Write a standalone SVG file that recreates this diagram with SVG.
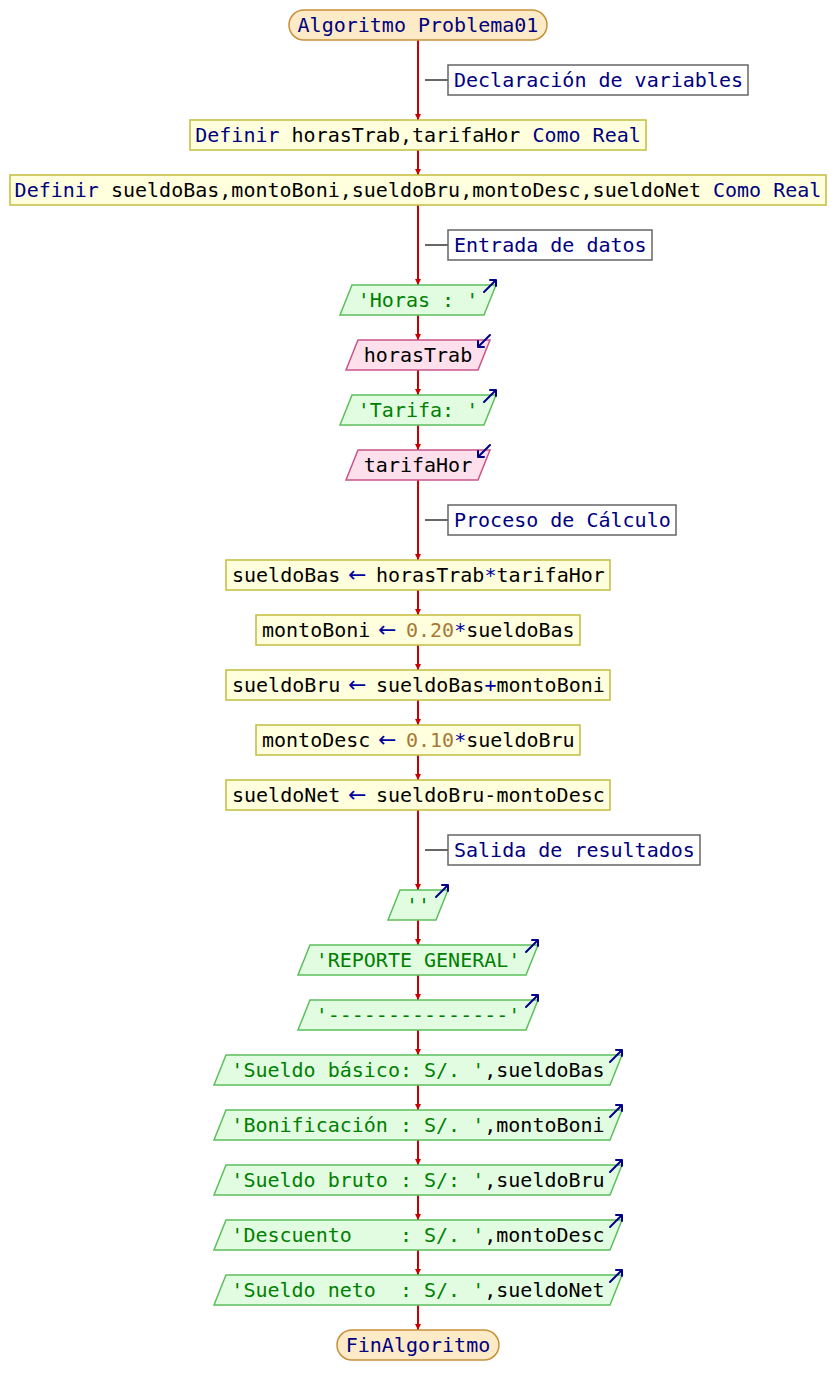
<svg xmlns="http://www.w3.org/2000/svg" width="836" height="1395" viewBox="0 0 836 1395">
<style>
text{font-family:"DejaVu Sans Mono","Liberation Mono",monospace;font-size:20px;white-space:pre;fill:#000}
.term{fill:#fdebc8;stroke:#c8903a;stroke-width:1.5}
.proc{fill:#ffffdd;stroke:#c4bc3c;stroke-width:1.5}
.out{fill:#e2fce2;stroke:#5cbf5c;stroke-width:1.5}
.inp{fill:#fde0ec;stroke:#c8548a;stroke-width:1.5}
.cbox{fill:#fff;stroke:#666;stroke-width:1.5}
.cline{stroke:#666;stroke-width:2}
.flow{stroke:#cc0000;stroke-width:2;fill:none;marker-end:url(#ah)}
.ico{stroke:#000088;stroke-width:2;fill:none;stroke-linecap:round;stroke-linejoin:round}
.k{fill:#00007f}
.s{fill:#008000}
.n{fill:#a87838}
.o{fill:#0000a0}
.ar{fill:#0000a0;font-family:"DejaVu Sans",sans-serif;font-size:22px}
</style>
<defs>
<marker id="ah" viewBox="0 0 10 10" refX="10" refY="5" markerWidth="6" markerHeight="10" markerUnits="userSpaceOnUse" orient="auto">
<path d="M0,0 L10,5 L0,10 z" fill="#cc0000"/>
</marker>
</defs>

<g id="connectors">
<line class="flow" x1="418" y1="40" x2="418" y2="120"/>
<line class="flow" x1="418" y1="150" x2="418" y2="175"/>
<line class="flow" x1="418" y1="205" x2="418" y2="285"/>
<line class="flow" x1="418" y1="315" x2="418" y2="340"/>
<line class="flow" x1="418" y1="370" x2="418" y2="395"/>
<line class="flow" x1="418" y1="425" x2="418" y2="450"/>
<line class="flow" x1="418" y1="480" x2="418" y2="560"/>
<line class="flow" x1="418" y1="590" x2="418" y2="615"/>
<line class="flow" x1="418" y1="645" x2="418" y2="670"/>
<line class="flow" x1="418" y1="700" x2="418" y2="725"/>
<line class="flow" x1="418" y1="755" x2="418" y2="780"/>
<line class="flow" x1="418" y1="810" x2="418" y2="890"/>
<line class="flow" x1="418" y1="920" x2="418" y2="945"/>
<line class="flow" x1="418" y1="975" x2="418" y2="1000"/>
<line class="flow" x1="418" y1="1030" x2="418" y2="1055"/>
<line class="flow" x1="418" y1="1085" x2="418" y2="1110"/>
<line class="flow" x1="418" y1="1140" x2="418" y2="1165"/>
<line class="flow" x1="418" y1="1195" x2="418" y2="1220"/>
<line class="flow" x1="418" y1="1250" x2="418" y2="1275"/>
<line class="flow" x1="418" y1="1305" x2="418" y2="1330"/>
<line class="cline" x1="425" y1="80" x2="448" y2="80"/>
<line class="cline" x1="425" y1="245" x2="448" y2="245"/>
<line class="cline" x1="425" y1="520" x2="448" y2="520"/>
<line class="cline" x1="425" y1="850" x2="448" y2="850"/>
</g>

<g id="start">
<rect class="term" x="289" y="10" width="258" height="30" rx="15" ry="15"/>
<text x="418" y="32" text-anchor="middle" class="k">Algoritmo Problema01</text>
</g>

<g id="comment1">
<rect class="cbox" x="448" y="65" width="300" height="30"/>
<text x="454" y="87" class="k">Declaración de variables</text>
</g>

<g id="def1">
<rect class="proc" x="190" y="120" width="456" height="30"/>
<text x="418" y="142" text-anchor="middle"><tspan class="k">Definir</tspan> horasTrab,tarifaHor <tspan class="k">Como Real</tspan></text>
</g>

<g id="def2">
<rect class="proc" x="10" y="175" width="816" height="30"/>
<text x="418" y="197" text-anchor="middle"><tspan class="k">Definir</tspan> sueldoBas,montoBoni,sueldoBru,montoDesc,sueldoNet <tspan class="k">Como Real</tspan></text>
</g>

<g id="comment2">
<rect class="cbox" x="448" y="230" width="204" height="30"/>
<text x="454" y="252" class="k">Entrada de datos</text>
</g>

<g id="out1">
<polygon class="out" points="352,285 496,285 484,315 340,315"/>
<text x="418" y="307" text-anchor="middle" class="s">'Horas : '</text>
<path class="ico" d="M484,292 L496,280 M490,280 L496,280 L496,286"/>
</g>

<g id="in1">
<polygon class="inp" points="358,340 490,340 478,370 346,370"/>
<text x="418" y="362" text-anchor="middle">horasTrab</text>
<path class="ico" d="M490,335 L478,347 M484,347 L478,347 L478,341"/>
</g>

<g id="out2">
<polygon class="out" points="352,395 496,395 484,425 340,425"/>
<text x="418" y="417" text-anchor="middle" class="s">'Tarifa: '</text>
<path class="ico" d="M484,402 L496,390 M490,390 L496,390 L496,396"/>
</g>

<g id="in2">
<polygon class="inp" points="358,450 490,450 478,480 346,480"/>
<text x="418" y="472" text-anchor="middle">tarifaHor</text>
<path class="ico" d="M490,445 L478,457 M484,457 L478,457 L478,451"/>
</g>

<g id="comment3">
<rect class="cbox" x="448" y="505" width="228" height="30"/>
<text x="454" y="527" class="k">Proceso de Cálculo</text>
</g>

<g id="proc1">
<rect class="proc" x="226" y="560" width="384" height="30"/>
<text x="232" y="582">sueldoBas<tspan x="348" class="ar">←</tspan><tspan x="376">horasTrab</tspan><tspan class="o">*</tspan>tarifaHor</text>
</g>

<g id="proc2">
<rect class="proc" x="256" y="615" width="324" height="30"/>
<text x="262" y="637">montoBoni<tspan x="378" class="ar">←</tspan><tspan x="406" class="n">0.20</tspan><tspan class="o">*</tspan>sueldoBas</text>
</g>

<g id="proc3">
<rect class="proc" x="226" y="670" width="384" height="30"/>
<text x="232" y="692">sueldoBru<tspan x="348" class="ar">←</tspan><tspan x="376">sueldoBas</tspan><tspan class="o">+</tspan>montoBoni</text>
</g>

<g id="proc4">
<rect class="proc" x="256" y="725" width="324" height="30"/>
<text x="262" y="747">montoDesc<tspan x="378" class="ar">←</tspan><tspan x="406" class="n">0.10</tspan><tspan class="o">*</tspan>sueldoBru</text>
</g>

<g id="proc5">
<rect class="proc" x="226" y="780" width="384" height="30"/>
<text x="232" y="802">sueldoNet<tspan x="348" class="ar">←</tspan><tspan x="376">sueldoBru-montoDesc</tspan></text>
</g>

<g id="comment4">
<rect class="cbox" x="448" y="835" width="252" height="30"/>
<text x="454" y="857" class="k">Salida de resultados</text>
</g>

<g id="out3">
<polygon class="out" points="400,890 448,890 436,920 388,920"/>
<text x="418" y="912" text-anchor="middle" class="s">''</text>
<path class="ico" d="M436,897 L448,885 M442,885 L448,885 L448,891"/>
</g>

<g id="out4">
<polygon class="out" points="310,945 538,945 526,975 298,975"/>
<text x="418" y="967" text-anchor="middle" class="s">'REPORTE GENERAL'</text>
<path class="ico" d="M526,952 L538,940 M532,940 L538,940 L538,946"/>
</g>

<g id="out5">
<polygon class="out" points="310,1000 538,1000 526,1030 298,1030"/>
<text x="418" y="1022" text-anchor="middle" class="s">'---------------'</text>
<path class="ico" d="M526,1007 L538,995 M532,995 L538,995 L538,1001"/>
</g>

<g id="out6">
<polygon class="out" points="226,1055 622,1055 610,1085 214,1085"/>
<text x="418" y="1077" text-anchor="middle"><tspan class="s">'Sueldo básico: S/. '</tspan>,sueldoBas</text>
<path class="ico" d="M610,1062 L622,1050 M616,1050 L622,1050 L622,1056"/>
</g>

<g id="out7">
<polygon class="out" points="226,1110 622,1110 610,1140 214,1140"/>
<text x="418" y="1132" text-anchor="middle"><tspan class="s">'Bonificación : S/. '</tspan>,montoBoni</text>
<path class="ico" d="M610,1117 L622,1105 M616,1105 L622,1105 L622,1111"/>
</g>

<g id="out8">
<polygon class="out" points="226,1165 622,1165 610,1195 214,1195"/>
<text x="418" y="1187" text-anchor="middle"><tspan class="s">'Sueldo bruto : S/: '</tspan>,sueldoBru</text>
<path class="ico" d="M610,1172 L622,1160 M616,1160 L622,1160 L622,1166"/>
</g>

<g id="out9">
<polygon class="out" points="226,1220 622,1220 610,1250 214,1250"/>
<text x="418" y="1242" text-anchor="middle" xml:space="preserve"><tspan class="s">'Descuento    : S/. '</tspan>,montoDesc</text>
<path class="ico" d="M610,1227 L622,1215 M616,1215 L622,1215 L622,1221"/>
</g>

<g id="out10">
<polygon class="out" points="226,1275 622,1275 610,1305 214,1305"/>
<text x="418" y="1297" text-anchor="middle" xml:space="preserve"><tspan class="s">'Sueldo neto  : S/. '</tspan>,sueldoNet</text>
<path class="ico" d="M610,1282 L622,1270 M616,1270 L622,1270 L622,1276"/>
</g>

<g id="end">
<rect class="term" x="337" y="1330" width="162" height="30" rx="15" ry="15"/>
<text x="418" y="1352" text-anchor="middle" class="k">FinAlgoritmo</text>
</g>
</svg>
